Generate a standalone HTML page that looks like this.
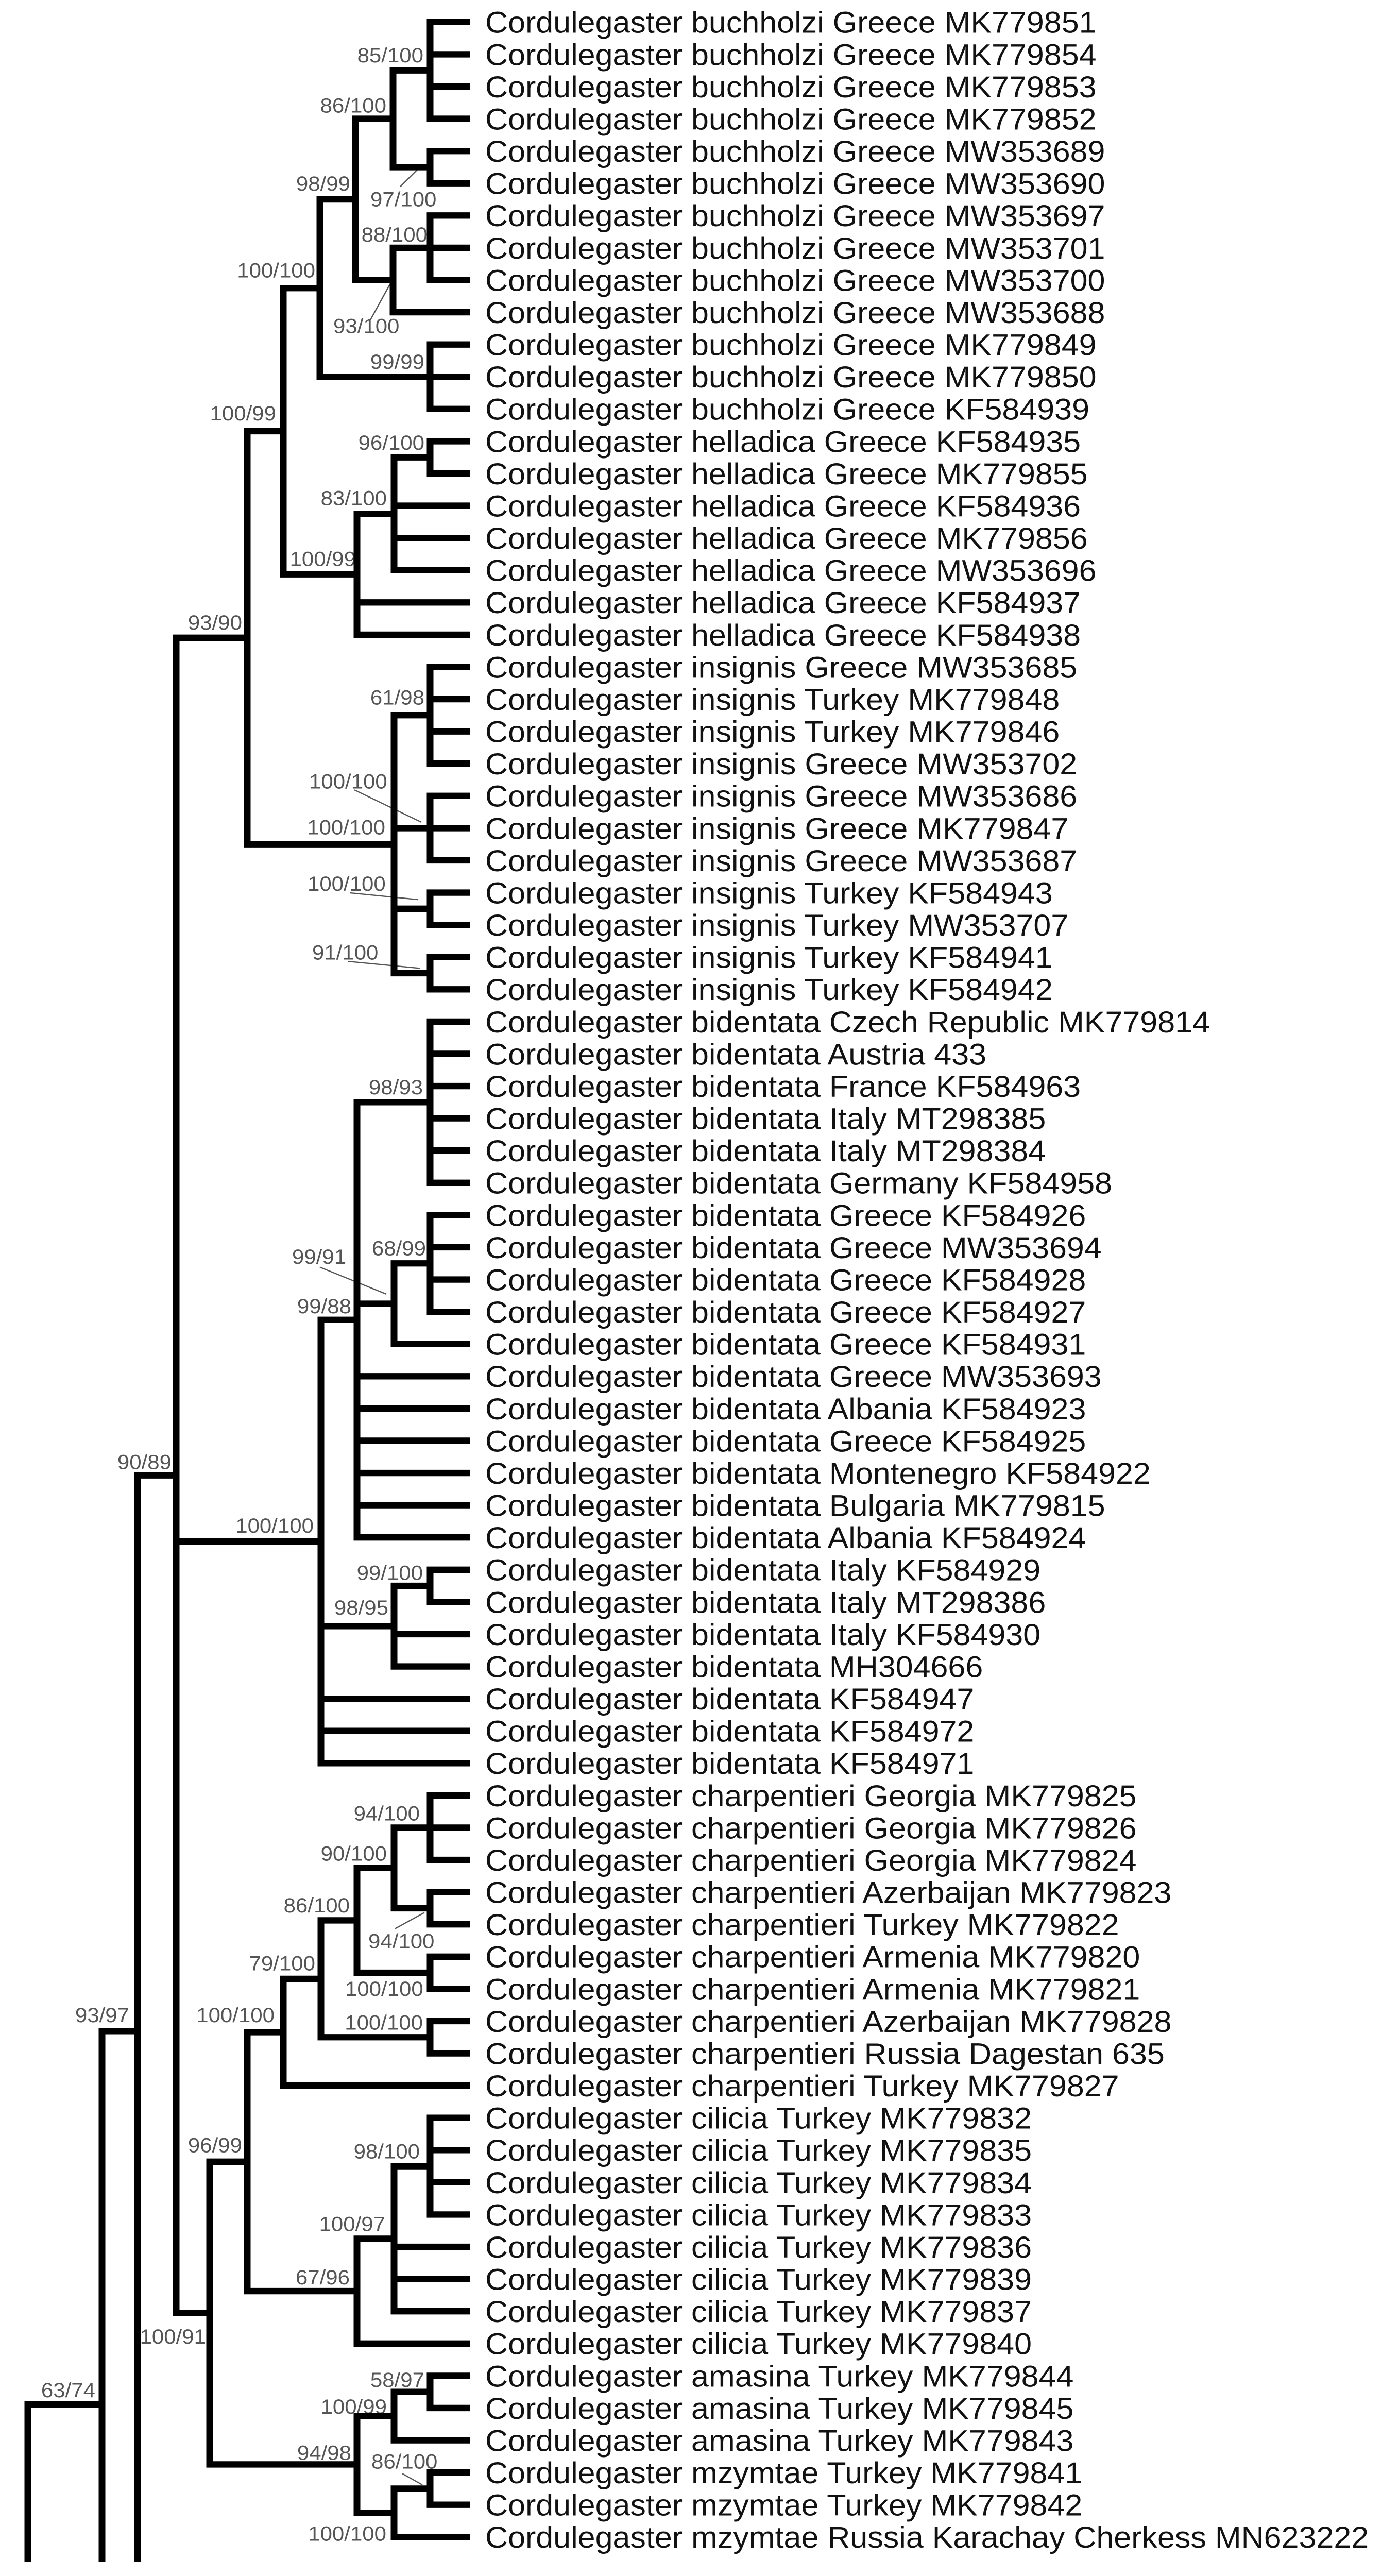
<!DOCTYPE html>
<html><head><meta charset="utf-8"><style>html,body{margin:0;padding:0;background:#fff;width:100%;height:100%;overflow:hidden}svg{display:block;position:fixed;left:0;top:0;width:100vw;height:100vh}</style></head><body><svg xmlns="http://www.w3.org/2000/svg" viewBox="0 0 2683 5257" preserveAspectRatio="none">
<rect width="2683" height="5257" fill="#fff"/>
<g font-family="Liberation Sans, Arial, sans-serif" font-size="42" fill="#555">
<text x="822" y="127" text-anchor="end">85/100</text>
<text x="750" y="230" text-anchor="end">86/100</text>
<text x="680" y="389" text-anchor="end">98/99</text>
<text x="719" y="421">97/100</text>
<text x="830" y="493" text-anchor="end">88/100</text>
<text x="647" y="680">93/100</text>
<text x="612" y="566" text-anchor="end">100/100</text>
<text x="824" y="753" text-anchor="end">99/99</text>
<text x="536" y="858" text-anchor="end">100/99</text>
<text x="824" y="918" text-anchor="end">96/100</text>
<text x="751" y="1031" text-anchor="end">83/100</text>
<text x="691" y="1155" text-anchor="end">100/99</text>
<text x="470" y="1285" text-anchor="end">93/90</text>
<text x="824" y="1438" text-anchor="end">61/98</text>
<text x="600" y="1609">100/100</text>
<text x="748" y="1703" text-anchor="end">100/100</text>
<text x="597" y="1818">100/100</text>
<text x="606" y="1958">91/100</text>
<text x="821" y="2233" text-anchor="end">98/93</text>
<text x="567" y="2579">99/91</text>
<text x="827" y="2562" text-anchor="end">68/99</text>
<text x="682" y="2680" text-anchor="end">99/88</text>
<text x="333" y="2998" text-anchor="end">90/89</text>
<text x="609" y="3128" text-anchor="end">100/100</text>
<text x="821" y="3224" text-anchor="end">99/100</text>
<text x="754" y="3295" text-anchor="end">98/95</text>
<text x="815" y="3715" text-anchor="end">94/100</text>
<text x="751" y="3797" text-anchor="end">90/100</text>
<text x="679" y="3903" text-anchor="end">86/100</text>
<text x="715" y="3976">94/100</text>
<text x="670" y="4073">100/100</text>
<text x="612" y="4021" text-anchor="end">79/100</text>
<text x="821" y="4142" text-anchor="end">100/100</text>
<text x="533" y="4127" text-anchor="end">100/100</text>
<text x="251" y="4127" text-anchor="end">93/97</text>
<text x="470" y="4392" text-anchor="end">96/99</text>
<text x="815" y="4405" text-anchor="end">98/100</text>
<text x="748" y="4553" text-anchor="end">100/97</text>
<text x="679" y="4662" text-anchor="end">67/96</text>
<text x="400" y="4783" text-anchor="end">100/91</text>
<text x="185" y="4892" text-anchor="end">63/74</text>
<text x="824" y="4871" text-anchor="end">58/97</text>
<text x="751" y="4926" text-anchor="end">100/99</text>
<text x="682" y="5020" text-anchor="end">94/98</text>
<text x="721" y="5038">86/100</text>
<text x="750" y="5185" text-anchor="end">100/100</text>
</g>
<g stroke="#555" stroke-width="2.5" fill="none">
<path d="M777 381L817 339M719 653L757 580M688 1612L818 1678M679 1822L812 1836M676 1962L815 1976M621 2586L750 2641M767 3936L824 3903M781 5048L820 5071"/>
</g>
<g stroke="#000" stroke-width="13" stroke-linecap="square" fill="none">
<path d="
M835 45V242.4 M835 308.2V374 M763 143.7V341.1 M835 439.8V571.4 M763 505.6V637.2 M690 242.4V571.4 M835 703V834.6 M621 406.9V768.8
M835 900.4V966.2 M765 933.3V1163.6 M693 1048.5V1295.2 M550 587.9V1172
M835 1361V1558.4 M835 1624.2V1755.8 M835 1821.6V1887.4 M835 1953.2V2019 M765 1459.6V1986.1 M480 880V1722.9
M835 2084.8V2413.8 M835 2479.6V2677 M765 2578.3V2742.8 M693 2249.3V3137.6 M835 3203.4V3269.2 M765 3236.3V3400.8 M623 2693.5V3598.2
M835 3664V3795.6 M835 3861.4V3927.2 M765 3729.8V3894.3 M835 3993V4058.8 M693 3812V4025.9 M835 4124.6V4190.4 M623 3919V4157.5 M550 4038.3V4256.2
M835 4322V4519.4 M765 4420.7V4716.8 M693 4568.8V4782.6 M480 4147.2V4675.7
M835 4848.4V4914.2 M765 4881.3V4980 M835 5045.8V5111.6 M765 5078.7V5177.4 M693 4930.7V5128 M407 4411.5V5029.3
M342 1301.4V4720.4 M267 3010.9V5222 M198 4145V5222 M54 4907V5222
M763 143.7H835 M763 341.1H835 M690 242.4H763 M763 505.6H835 M690 571.4H763 M621 406.9H690 M621 768.8H835 M550 587.9H621
M765 933.3H835 M693 1048.5H765 M550 1172H693 M480 880H550
M765 1459.6H835 M765 1690H835 M765 1854.5H835 M765 1986.1H835 M480 1722.9H765 M342 1301.4H480
M693 2249.3H835 M765 2578.3H835 M693 2660.6H765 M623 2693.5H693 M765 3236.3H835 M623 3318.5H765 M342 3145.9H623
M765 3729.8H835 M765 3894.3H835 M693 3812H765 M693 4025.9H835 M623 3919H693 M623 4157.5H835 M550 4038.3H623 M480 4147.2H550
M765 4420.7H835 M693 4568.8H765 M480 4675.7H693 M407 4411.5H480
M765 4881.3H835 M693 4930.7H765 M765 5078.7H835 M693 5128H765 M407 5029.3H693 M342 4720.4H407
M267 3010.9H342 M198 4145H267 M54 4907H198
M835 45H906 M835 110.8H906 M835 176.6H906 M835 242.4H906 M835 308.2H906 M835 374H906 M835 439.8H906 M835 505.6H906 M835 571.4H906 M763 637.2H906
M835 703H906 M835 768.8H906 M835 834.6H906 M835 900.4H906 M835 966.2H906 M765 1032H906 M765 1097.8H906 M765 1163.6H906 M693 1229.4H906 M693 1295.2H906
M835 1361H906 M835 1426.8H906 M835 1492.6H906 M835 1558.4H906 M835 1624.2H906 M835 1690H906 M835 1755.8H906 M835 1821.6H906 M835 1887.4H906 M835 1953.2H906 M835 2019H906
M835 2084.8H906 M835 2150.6H906 M835 2216.4H906 M835 2282.2H906 M835 2348H906 M835 2413.8H906 M835 2479.6H906 M835 2545.4H906 M835 2611.2H906 M835 2677H906 M765 2742.8H906
M693 2808.6H906 M693 2874.4H906 M693 2940.2H906 M693 3006H906 M693 3071.8H906 M693 3137.6H906 M835 3203.4H906 M835 3269.2H906 M765 3335H906 M765 3400.8H906
M623 3466.6H906 M623 3532.4H906 M623 3598.2H906
M835 3664H906 M835 3729.8H906 M835 3795.6H906 M835 3861.4H906 M835 3927.2H906 M835 3993H906 M835 4058.8H906 M835 4124.6H906 M835 4190.4H906 M550 4256.2H906
M835 4322H906 M835 4387.8H906 M835 4453.6H906 M835 4519.4H906 M765 4585.2H906 M765 4651H906 M765 4716.8H906 M693 4782.6H906
M835 4848.4H906 M835 4914.2H906 M765 4980H906 M835 5045.8H906 M835 5111.6H906 M765 5177.4H906
"/>
</g>
<g font-family="Liberation Sans, Arial, sans-serif" font-size="61" fill="#111">
<text x="942" y="67">Cordulegaster buchholzi Greece MK779851</text>
<text x="942" y="132.8">Cordulegaster buchholzi Greece MK779854</text>
<text x="942" y="198.6">Cordulegaster buchholzi Greece MK779853</text>
<text x="942" y="264.4">Cordulegaster buchholzi Greece MK779852</text>
<text x="942" y="330.2">Cordulegaster buchholzi Greece MW353689</text>
<text x="942" y="396">Cordulegaster buchholzi Greece MW353690</text>
<text x="942" y="461.8">Cordulegaster buchholzi Greece MW353697</text>
<text x="942" y="527.6">Cordulegaster buchholzi Greece MW353701</text>
<text x="942" y="593.4">Cordulegaster buchholzi Greece MW353700</text>
<text x="942" y="659.2">Cordulegaster buchholzi Greece MW353688</text>
<text x="942" y="725">Cordulegaster buchholzi Greece MK779849</text>
<text x="942" y="790.8">Cordulegaster buchholzi Greece MK779850</text>
<text x="942" y="856.6">Cordulegaster buchholzi Greece KF584939</text>
<text x="942" y="922.4">Cordulegaster helladica Greece KF584935</text>
<text x="942" y="988.2">Cordulegaster helladica Greece MK779855</text>
<text x="942" y="1054">Cordulegaster helladica Greece KF584936</text>
<text x="942" y="1119.8">Cordulegaster helladica Greece MK779856</text>
<text x="942" y="1185.6">Cordulegaster helladica Greece MW353696</text>
<text x="942" y="1251.4">Cordulegaster helladica Greece KF584937</text>
<text x="942" y="1317.2">Cordulegaster helladica Greece KF584938</text>
<text x="942" y="1383">Cordulegaster insignis Greece MW353685</text>
<text x="942" y="1448.8">Cordulegaster insignis Turkey MK779848</text>
<text x="942" y="1514.6">Cordulegaster insignis Turkey MK779846</text>
<text x="942" y="1580.4">Cordulegaster insignis Greece MW353702</text>
<text x="942" y="1646.2">Cordulegaster insignis Greece MW353686</text>
<text x="942" y="1712">Cordulegaster insignis Greece MK779847</text>
<text x="942" y="1777.8">Cordulegaster insignis Greece MW353687</text>
<text x="942" y="1843.6">Cordulegaster insignis Turkey KF584943</text>
<text x="942" y="1909.4">Cordulegaster insignis Turkey MW353707</text>
<text x="942" y="1975.2">Cordulegaster insignis Turkey KF584941</text>
<text x="942" y="2041">Cordulegaster insignis Turkey KF584942</text>
<text x="942" y="2106.8">Cordulegaster bidentata Czech Republic MK779814</text>
<text x="942" y="2172.6">Cordulegaster bidentata Austria 433</text>
<text x="942" y="2238.4">Cordulegaster bidentata France KF584963</text>
<text x="942" y="2304.2">Cordulegaster bidentata Italy MT298385</text>
<text x="942" y="2370">Cordulegaster bidentata Italy MT298384</text>
<text x="942" y="2435.8">Cordulegaster bidentata Germany KF584958</text>
<text x="942" y="2501.6">Cordulegaster bidentata Greece KF584926</text>
<text x="942" y="2567.4">Cordulegaster bidentata Greece MW353694</text>
<text x="942" y="2633.2">Cordulegaster bidentata Greece KF584928</text>
<text x="942" y="2699">Cordulegaster bidentata Greece KF584927</text>
<text x="942" y="2764.8">Cordulegaster bidentata Greece KF584931</text>
<text x="942" y="2830.6">Cordulegaster bidentata Greece MW353693</text>
<text x="942" y="2896.4">Cordulegaster bidentata Albania KF584923</text>
<text x="942" y="2962.2">Cordulegaster bidentata Greece KF584925</text>
<text x="942" y="3028">Cordulegaster bidentata Montenegro KF584922</text>
<text x="942" y="3093.8">Cordulegaster bidentata Bulgaria MK779815</text>
<text x="942" y="3159.6">Cordulegaster bidentata Albania KF584924</text>
<text x="942" y="3225.4">Cordulegaster bidentata Italy KF584929</text>
<text x="942" y="3291.2">Cordulegaster bidentata Italy MT298386</text>
<text x="942" y="3357">Cordulegaster bidentata Italy KF584930</text>
<text x="942" y="3422.8">Cordulegaster bidentata MH304666</text>
<text x="942" y="3488.6">Cordulegaster bidentata KF584947</text>
<text x="942" y="3554.4">Cordulegaster bidentata KF584972</text>
<text x="942" y="3620.2">Cordulegaster bidentata KF584971</text>
<text x="942" y="3686">Cordulegaster charpentieri Georgia MK779825</text>
<text x="942" y="3751.8">Cordulegaster charpentieri Georgia MK779826</text>
<text x="942" y="3817.6">Cordulegaster charpentieri Georgia MK779824</text>
<text x="942" y="3883.4">Cordulegaster charpentieri Azerbaijan MK779823</text>
<text x="942" y="3949.2">Cordulegaster charpentieri Turkey MK779822</text>
<text x="942" y="4015">Cordulegaster charpentieri Armenia MK779820</text>
<text x="942" y="4080.8">Cordulegaster charpentieri Armenia MK779821</text>
<text x="942" y="4146.6">Cordulegaster charpentieri Azerbaijan MK779828</text>
<text x="942" y="4212.4">Cordulegaster charpentieri Russia Dagestan 635</text>
<text x="942" y="4278.2">Cordulegaster charpentieri Turkey MK779827</text>
<text x="942" y="4344">Cordulegaster cilicia Turkey MK779832</text>
<text x="942" y="4409.8">Cordulegaster cilicia Turkey MK779835</text>
<text x="942" y="4475.6">Cordulegaster cilicia Turkey MK779834</text>
<text x="942" y="4541.4">Cordulegaster cilicia Turkey MK779833</text>
<text x="942" y="4607.2">Cordulegaster cilicia Turkey MK779836</text>
<text x="942" y="4673">Cordulegaster cilicia Turkey MK779839</text>
<text x="942" y="4738.8">Cordulegaster cilicia Turkey MK779837</text>
<text x="942" y="4804.6">Cordulegaster cilicia Turkey MK779840</text>
<text x="942" y="4870.4">Cordulegaster amasina Turkey MK779844</text>
<text x="942" y="4936.2">Cordulegaster amasina Turkey MK779845</text>
<text x="942" y="5002">Cordulegaster amasina Turkey MK779843</text>
<text x="942" y="5067.8">Cordulegaster mzymtae Turkey MK779841</text>
<text x="942" y="5133.6">Cordulegaster mzymtae Turkey MK779842</text>
<text x="942" y="5199.4">Cordulegaster mzymtae Russia Karachay Cherkess MN623222</text>
</g>
</svg></body></html>
